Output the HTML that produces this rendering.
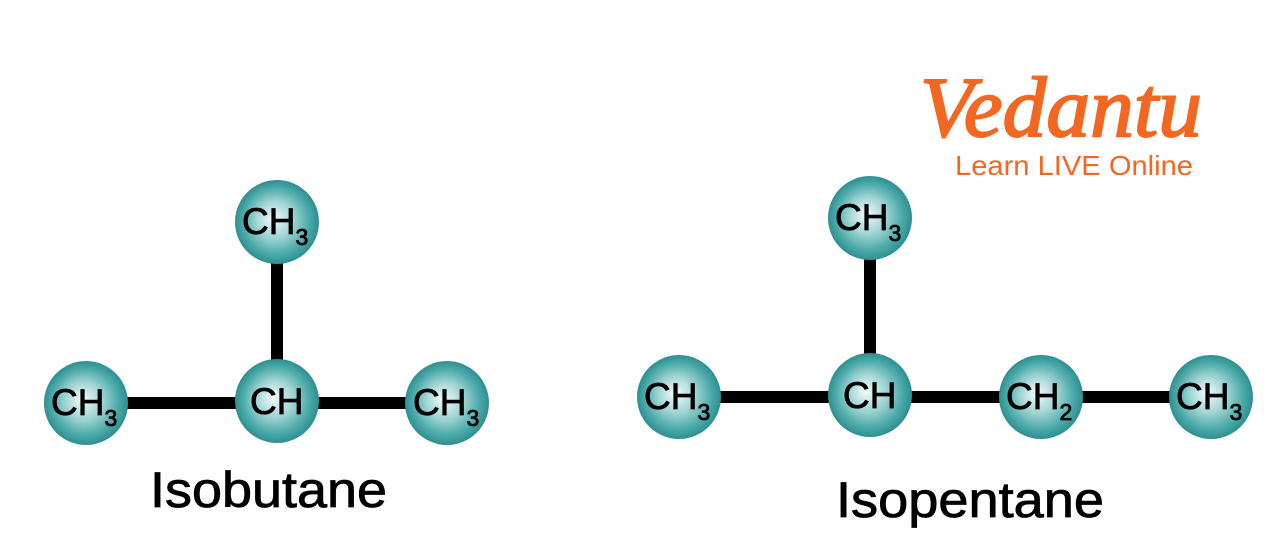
<!DOCTYPE html>
<html><head><meta charset="utf-8"><style>
html,body{margin:0;padding:0;background:#fff;}
svg{display:block;}
</style></head><body>
<svg width="1274" height="542" viewBox="0 0 1274 542" xmlns="http://www.w3.org/2000/svg">
<defs>
<radialGradient id="g" cx="0.5" cy="0.5" r="0.5" fx="0.45" fy="0.45">
<stop offset="0" stop-color="#f4fbfb"/>
<stop offset="0.45" stop-color="#9fd3d3"/>
<stop offset="0.8" stop-color="#4aa9a9"/>
<stop offset="1" stop-color="#2f8f90"/>
</radialGradient>
</defs>
<g stroke="#000" stroke-width="12">
<line x1="86" y1="403" x2="447" y2="403"/>
<line x1="277" y1="222" x2="277" y2="401"/>
<line x1="679" y1="397" x2="1211" y2="397"/>
<line x1="870" y1="218" x2="870" y2="395"/>
</g>
<g fill="url(#g)">
<circle cx="86" cy="403" r="42"/>
<circle cx="277" cy="401" r="42"/>
<circle cx="447" cy="403" r="42"/>
<circle cx="277" cy="222" r="42"/>
<circle cx="679" cy="397" r="42"/>
<circle cx="870" cy="395" r="42"/>
<circle cx="1041" cy="397" r="42"/>
<circle cx="1211" cy="397" r="42"/>
<circle cx="870" cy="218" r="42"/>
</g>
<g font-family="Liberation Sans, sans-serif" font-size="37" fill="#000" stroke="#000" stroke-width="0.8">
<text x="51" y="415">CH<tspan font-size="23" dy="11">3</tspan></text>
<text x="250" y="414">CH</text>
<text x="413" y="415">CH<tspan font-size="23" dy="11">3</tspan></text>
<text x="242" y="234">CH<tspan font-size="23" dy="11">3</tspan></text>
<text x="644" y="409">CH<tspan font-size="23" dy="11">3</tspan></text>
<text x="843" y="408">CH</text>
<text x="1006" y="409">CH<tspan font-size="23" dy="11">2</tspan></text>
<text x="1176" y="409">CH<tspan font-size="23" dy="11">3</tspan></text>
<text x="835" y="230">CH<tspan font-size="23" dy="11">3</tspan></text>
</g>
<g font-family="Liberation Sans, sans-serif" font-size="50" fill="#000" stroke="#000" stroke-width="0.8">
<text x="150" y="507" textLength="237" lengthAdjust="spacingAndGlyphs">Isobutane</text>
<text x="836" y="517" textLength="268" lengthAdjust="spacingAndGlyphs">Isopentane</text>
</g>
<g fill="#f26722">
<text x="920" y="136" font-family="Liberation Serif, serif" font-style="italic" font-size="86" stroke="#f26722" stroke-width="2" textLength="282" lengthAdjust="spacingAndGlyphs">Vedantu</text>
<text x="955" y="175" font-family="Liberation Sans, sans-serif" font-size="28" textLength="238" lengthAdjust="spacingAndGlyphs">Learn LIVE Online</text>
</g>
</svg>
</body></html>
